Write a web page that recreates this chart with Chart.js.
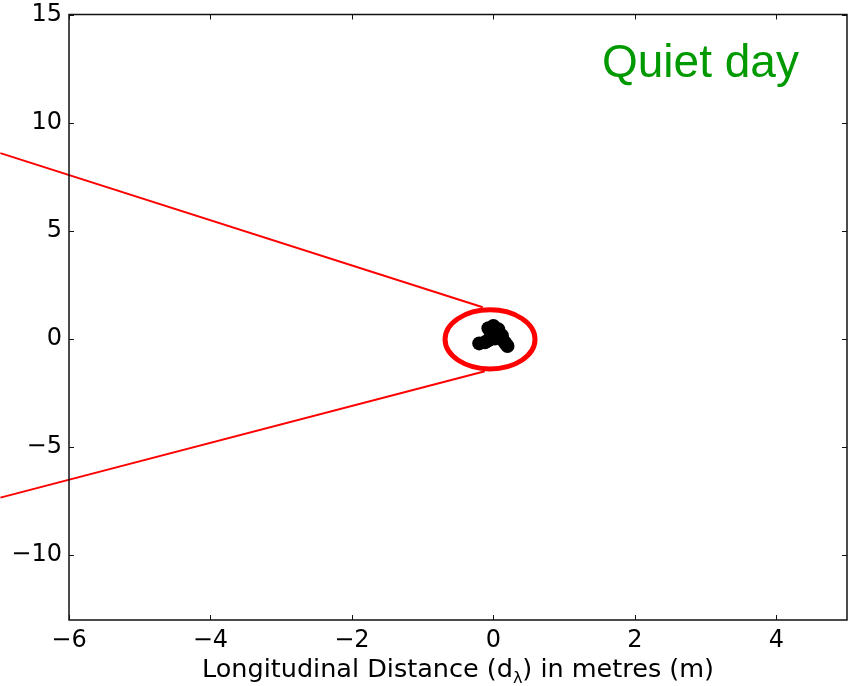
<!DOCTYPE html>
<html>
<head>
<meta charset="utf-8">
<script src="https://cdn.jsdelivr.net/npm/chart.js@4/dist/chart.umd.min.js"></script>
<style>
  html, body { margin: 0; padding: 0; background: #fff; overflow: hidden; }
  canvas { display: block; }
</style>
</head>
<body>
<canvas id="c" width="857" height="686"></canvas>
<script>
// Axis ranges and tick values
const xRange = [-6, 5];
const yRange = [-13, 15];
const xTicks = [-6, -4, -2, 0, 2, 4];
const yTicks = [-10, -5, 0, 5, 10, 15];

// Position track (metres) of the receiver
const trackX = [-0.07, 0.00, 0.07, -0.03, 0.06, -0.04, 0.02, -0.20, -0.12, -0.07, 0.12, 0.14, 0.20, 0.17, 0.03];
const trackY = [0.49, 0.60, 0.44, 0.26, 0.26, 0.07, 0.02, -0.21, -0.16, -0.07, 0.16, -0.07, -0.33, -0.20, 0.40];

// Callout rays leading to the highlighted zone
const upperRayX = [-6.97, -0.15];
const upperRayY = [8.59, 1.46];
const lowerRayX = [-6.97, -0.12];
const lowerRayY = [-7.34, -1.50];

// Highlight ellipse (centre and radii in metres)
const zoneCenter = [-0.047, -0.023];
const zoneRadius = [0.636, 1.366];

const panelLabel = 'Quiet day';
const xTitleParts = ['Longitudinal Distance (d', 'λ', ') in metres (m)'];

const toPoints = (xs, ys) => xs.map((x, i) => ({ x, y: ys[i] }));
const fmt = v => (v < 0 ? '\u2212' + Math.abs(v) : String(v));
const FONT = "'DejaVu Sans', sans-serif";

const decorations = {
  id: 'decorations',
  afterDatasetsDraw(chart) {
    const { ctx, scales: { x, y } } = chart;
    // highlight ellipse
    const cx = x.getPixelForValue(zoneCenter[0]);
    const cy = y.getPixelForValue(zoneCenter[1]);
    const rx = Math.abs(x.getPixelForValue(zoneCenter[0] + zoneRadius[0]) - cx);
    const ry = Math.abs(y.getPixelForValue(zoneCenter[1] + zoneRadius[1]) - cy);
    ctx.save();
    ctx.beginPath();
    ctx.ellipse(cx, cy, rx, ry, 0, 0, Math.PI * 2);
    ctx.strokeStyle = '#ff0000';
    ctx.lineWidth = 5;
    ctx.stroke();
    ctx.restore();
  },
  afterDraw(chart) {
    const { ctx, chartArea: a, scales: { x, y } } = chart;
    ctx.save();
    // frame
    ctx.strokeStyle = '#111';
    ctx.lineWidth = 1.5;
    ctx.strokeRect(a.left, a.top, a.right - a.left, a.bottom - a.top);
    // inward tick marks on all four sides
    const tl = 5;
    ctx.lineWidth = 1;
    ctx.beginPath();
    xTicks.forEach(v => {
      const px = Math.round(x.getPixelForValue(v)) + 0.5;
      ctx.moveTo(px, a.bottom); ctx.lineTo(px, a.bottom - tl);
      ctx.moveTo(px, a.top); ctx.lineTo(px, a.top + tl);
    });
    yTicks.forEach(v => {
      const py = Math.round(y.getPixelForValue(v)) + 0.5;
      ctx.moveTo(a.left, py); ctx.lineTo(a.left + tl, py);
      ctx.moveTo(a.right, py); ctx.lineTo(a.right - tl, py);
    });
    ctx.stroke();

    // x-axis title with subscript
    const mainFont = '25.5px ' + FONT;
    const subFont = '16px ' + FONT;
    ctx.fillStyle = '#000';
    ctx.textBaseline = 'alphabetic';
    ctx.textAlign = 'left';
    ctx.font = mainFont;
    const w0 = ctx.measureText(xTitleParts[0]).width;
    const w2 = ctx.measureText(xTitleParts[2]).width;
    ctx.font = subFont;
    const w1 = ctx.measureText(xTitleParts[1]).width;
    const total = w0 + w1 + w2;
    let tx = (a.left + a.right) / 2 - total / 2;
    const base = 677;
    ctx.font = mainFont;
    ctx.fillText(xTitleParts[0], tx, base);
    tx += w0;
    ctx.font = subFont;
    ctx.fillText(xTitleParts[1], tx, base + 6);
    tx += w1;
    ctx.font = mainFont;
    ctx.fillText(xTitleParts[2], tx, base);

    // panel label
    ctx.font = "46px 'Liberation Sans', Arial, sans-serif";
    ctx.fillStyle = '#009900';
    ctx.fillText(panelLabel, 602, 77);
    ctx.restore();
  }
};

new Chart(document.getElementById('c'), {
  type: 'scatter',
  data: {
    datasets: [
      {
        data: toPoints(trackX, trackY),
        backgroundColor: '#000',
        borderColor: '#000',
        pointRadius: 7,
        pointBorderWidth: 0,
        showLine: false
      },
      {
        data: toPoints(upperRayX, upperRayY),
        showLine: true,
        borderColor: '#ff0000',
        borderWidth: 2,
        pointRadius: 0,
        clip: false
      },
      {
        data: toPoints(lowerRayX, lowerRayY),
        showLine: true,
        borderColor: '#ff0000',
        borderWidth: 2,
        pointRadius: 0,
        clip: false
      }
    ]
  },
  options: {
    responsive: false,
    animation: false,
    events: [],
    layout: { padding: { top: 14.5, right: 10, left: 0, bottom: 0 } },
    plugins: { legend: { display: false }, tooltip: { enabled: false } },
    scales: {
      x: {
        type: 'linear',
        min: xRange[0], max: xRange[1],
        afterBuildTicks: s => { s.ticks = xTicks.map(v => ({ value: v })); },
        afterFit: s => { s.height = 66; s.paddingLeft = 0; s.paddingRight = 0; },
        grid: { display: false, drawTicks: false },
        border: { display: false },
        ticks: { color: '#000', font: { family: FONT, size: 24 }, padding: 6, maxRotation: 0, callback: fmt }
      },
      y: {
        type: 'linear',
        min: yRange[0], max: yRange[1],
        afterBuildTicks: s => { s.ticks = yTicks.map(v => ({ value: v })); },
        afterFit: s => { s.width = 69; s.paddingTop = 0; s.paddingBottom = 0; },
        grid: { display: false, drawTicks: false },
        border: { display: false },
        ticks: { color: '#000', font: { family: FONT, size: 24 }, padding: 7, callback: fmt }
      }
    }
  },
  plugins: [decorations]
});
</script>
</body>
</html>
